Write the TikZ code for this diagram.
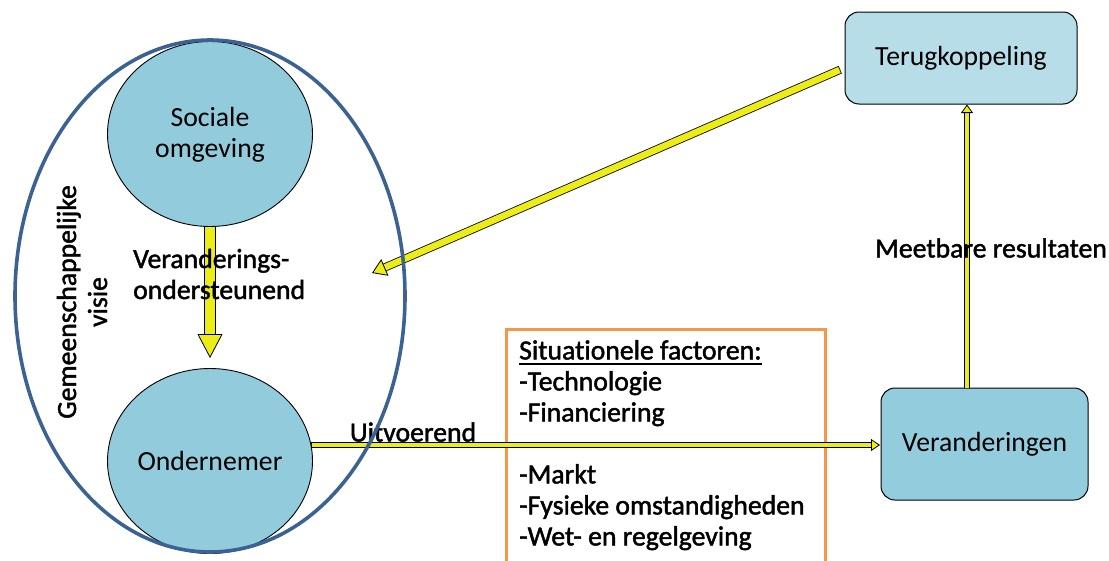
\documentclass[tikz,border=0pt]{standalone}
\usepackage{fontspec}
\setmainfont{Carlito}[Ligatures=NoCommon]
\newfontfamily\heavyfont{Carlito}[Ligatures=NoCommon, FakeBold=1.6]
\usetikzlibrary{shapes.geometric,arrows.meta,calc}
\definecolor{yarrow}{RGB}{236,236,22}
\definecolor{circfill}{RGB}{146,204,220}
\definecolor{tbfill}{RGB}{183,221,232}
\definecolor{verfill}{RGB}{147,205,221}
\definecolor{outerc}{RGB}{60,98,148}
\definecolor{orangec}{RGB}{247,150,70}
\newsavebox\myulsave
\newcommand\myul[1]{\sbox\myulsave{#1}\rlap{\rule[-5.5pt]{\wd\myulsave}{2.2pt}}\usebox\myulsave}
\begin{document}
\begin{tikzpicture}[x=1pt,y=-1pt,
  txt/.style={font=\fontsize{27.7}{31}\selectfont},
  lbl/.style={font=\fontsize{27.7}{31}\selectfont\heavyfont, inner sep=0pt, align=left},
  circ/.style={ellipse, draw=black, line width=0.9pt, fill=circfill,
    minimum width=205pt, minimum height=185pt, inner sep=0pt, align=center, txt},
  rbox/.style={rectangle, rounded corners=14pt, draw=black, line width=1pt,
    inner sep=0pt, txt},
  factbox/.style={rectangle, draw=orangec, line width=3pt, inner sep=0pt},
  vision/.style={ellipse, draw=outerc, line width=3.6pt, inner sep=0pt},
  blockout/.style 2 args={draw=black, line width=#1, shorten >=#2, shorten <=-0.8pt},
  blockin/.style n args={4}{draw=yarrow, line width=#1,
    -{Triangle[width=#2,length=#3,fill=yarrow,color=black,line width=0.8pt]},
    shorten >=#4},
]
\useasboundingbox (0,0) rectangle (1109,560);

% nodes
\node[circ] (soc) at (210,134) {\raisebox{0pt}[\dimexpr\height+4pt\relax][\depth]{\begin{tabular}{@{}c@{}}Sociale\\omgeving\end{tabular}}};
\node[circ] (ond) at (210,461) {Ondernemer};
\node[rbox, fill=tbfill, minimum width=232pt, minimum height=92pt] (tb) at (961,58) {Terugkoppeling};
\node[rbox, fill=verfill, minimum width=207pt, minimum height=112pt] (ver) at (984.5,444) {Veranderingen};
\node[factbox, anchor=north west, minimum width=319pt, minimum height=250pt] (fbox) at (505,328) {};

% connector end points
\coordinate (fbstart) at ($(tb.west)+(-5,12)$);
\coordinate (fbtip) at (372,273);
\coordinate (upfrom) at ($(ver.north)+(-17.5,0)$);
\coordinate (upto) at ($(tb.south)+(6,0)$);
\coordinate (hfrom) at ($(ond.east |- ver.west)+(-1,1)$);
\coordinate (hto) at ($(ver.west)+(0,1)$);

% arrow: Sociale omgeving -> Ondernemer
\draw[blockout={11.6pt}{31pt}] (soc.south) -- (ond.north);
\draw[blockin={9.8pt}{25pt}{24pt}{10pt}] (soc.south) -- (ond.north);
% arrow: Terugkoppeling -> vision
\draw[blockout={8.2pt}{13pt}] (fbstart) -- (fbtip);
\draw[blockin={6.6pt}{18pt}{14pt}{0pt}] (fbstart) -- (fbtip);
% arrow: Ondernemer -> Veranderingen
\draw[blockout={6.6pt}{9pt}] (hfrom) -- (hto);
\draw[blockin={4.6pt}{12pt}{9pt}{0.5pt}] (hfrom) -- (hto);
% arrow: Veranderingen -> Terugkoppeling
\draw[blockout={6.6pt}{8pt}] (upfrom) -- (upto);
\draw[blockin={4.6pt}{12pt}{8.5pt}{0pt}] (upfrom) -- (upto);

% labels
\node[lbl, anchor=west] (lver) at (133,274) {Veranderings-\\ondersteunend};
\node[lbl, align=center, rotate=90] (lvis) at (82,302) {Gemeenschappelijke\\visie};
\node[lbl, anchor=center] (luit) at (413,432) {Uitvoerend};
\node[lbl, anchor=center] (lmeet) at (991,248) {Meetbare resultaten};
\node[lbl, anchor=north west] (ftxt) at (519,340) {\myul{Situationele factoren:}\\-Technologie\\-Financiering\\[31pt]-Markt\\-Fysieke omstandigheden\\-Wet- en regelgeving};

% outer vision ellipse
\node[vision, minimum width=390pt, minimum height=512pt] (vis) at (210,296) {};
\end{tikzpicture}
\end{document}
